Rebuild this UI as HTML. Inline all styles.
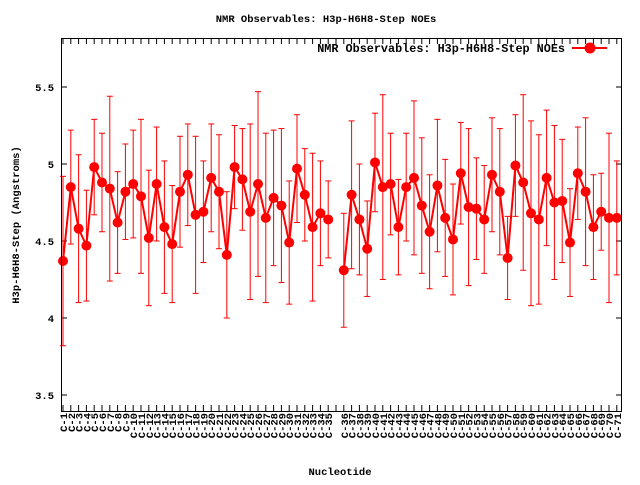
<!DOCTYPE html>
<html><head><meta charset="utf-8"><style>
body{margin:0;background:#fff}
svg text{font-family:"Liberation Mono","DejaVu Sans Mono",monospace;font-weight:bold;font-size:10.5px;fill:#000}
</style></head><body>
<svg id="s" width="640" height="480" xmlns="http://www.w3.org/2000/svg">
<rect width="640" height="480" fill="#fff"/>
<text x="326" y="22" text-anchor="middle">NMR Observables: H3p-H6H8-Step NOEs</text>
<text x="565" y="52" text-anchor="end" style="font-size:11.8px">NMR Observables: H3p-H6H8-Step NOEs</text>
<line x1="572" y1="48" x2="607" y2="48" stroke="#f00" stroke-width="2"/>
<circle cx="590" cy="48" r="5.5" fill="#f00"/>
<text x="340" y="475" text-anchor="middle">Nucleotide</text>
<text transform="translate(19,225) rotate(-90)" text-anchor="middle">H3p-H6H8-Step (Angstroms)</text>
<g id="g"></g>
<rect x="61.5" y="38.5" width="560" height="373" fill="none" stroke="#000"/>
</svg>
<script>
var g=document.getElementById('g'),h='';
function Y(v){return 87+(5.5-v)*154;}
function X(i){return 63+i*7.8;}
[3.5,4,4.5,5,5.5].forEach(function(v){var y=Y(v);
h+='<line x1="61" y1="'+y+'" x2="67" y2="'+y+'" stroke="#000"/><line x1="616" y1="'+y+'" x2="622" y2="'+y+'" stroke="#000"/>';
h+='<text x="54" y="'+(y+4)+'" text-anchor="end">'+v+'</text>';});
var L=[4.37,4.85,4.58,4.47,4.98,4.88,4.84,4.62,4.82,4.87,4.79,4.52,4.87,4.59,4.48,4.82,4.93,4.67,4.69,4.91,4.82,4.41,4.98,4.90,4.69,4.87,4.65,4.78,4.73,4.49,4.97,4.80,4.59,4.68,4.64];
var R=[4.31,4.80,4.64,4.45,5.01,4.85,4.87,4.59,4.85,4.91,4.73,4.56,4.86,4.65,4.51,4.94,4.72,4.71,4.64,4.93,4.82,4.39,4.99,4.88,4.68,4.64,4.91,4.75,4.76,4.49,4.94,4.82,4.59,4.69,4.65,4.65];
var E=[0.55,0.37,0.48,0.36,0.31,0.32,0.6,0.33,0.31,0.35,0.5,0.44,0.37,0.43,0.38,0.36,0.33,0.51,0.33,0.35,0.37,0.41,0.27,0.33,0.57,0.6,0.55,0.44,0.5,0.4,0.35,0.3,0.48,0.34,0.25];
for(var i=0;i<72;i++){var x=X(i);
h+='<line x1="'+x+'" y1="411" x2="'+x+'" y2="405" stroke="#000"/><line x1="'+x+'" y1="38" x2="'+x+'" y2="44" stroke="#000"/>';
if(i==35)continue;
h+='<text transform="translate('+(x+4)+',413) rotate(-90)" text-anchor="end">C-'+(i<35?i+1:i)+'</text>';}
var seg=[[],[]];
for(var i=0;i<72;i++){if(i==35)continue;var v=i<35?L[i]:R[i-36];var e=E[i%35];var x=X(i);
h+='<line x1="'+x+'" y1="'+Y(v+e)+'" x2="'+x+'" y2="'+Y(v-e)+'" stroke="#f00"/>';
h+='<line x1="'+(x-3)+'" y1="'+Y(v+e)+'" x2="'+(x+3)+'" y2="'+Y(v+e)+'" stroke="#f00"/><line x1="'+(x-3)+'" y1="'+Y(v-e)+'" x2="'+(x+3)+'" y2="'+Y(v-e)+'" stroke="#f00"/>';
seg[i<35?0:1].push(x+','+Y(v));}
seg.forEach(function(s){h+='<polyline points="'+s.join(' ')+'" fill="none" stroke="#f00" stroke-width="2"/>';});
seg.forEach(function(s){s.forEach(function(p){var a=p.split(',');h+='<circle cx="'+a[0]+'" cy="'+a[1]+'" r="5" fill="#f00"/>';});});
g.innerHTML=h;
</script>
</body></html>
